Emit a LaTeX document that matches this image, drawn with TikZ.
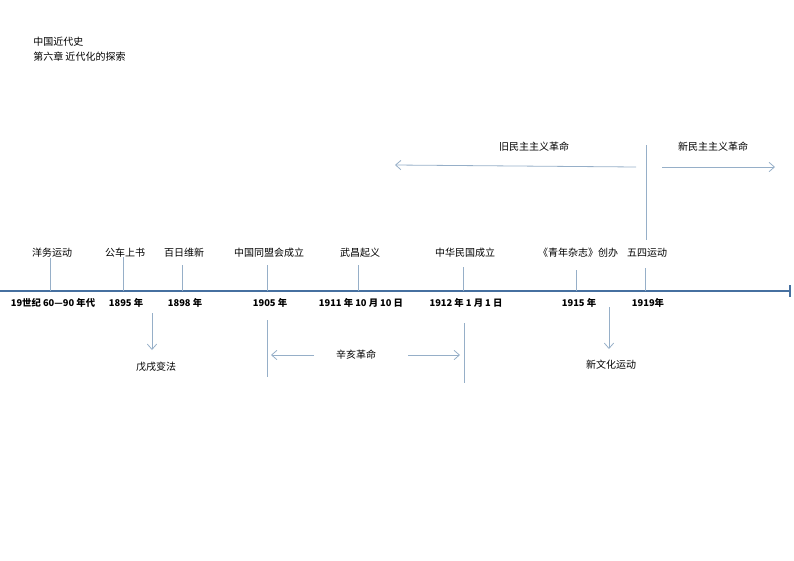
\documentclass[tikz,border=0pt]{standalone}
\usepackage{fontspec}
\newfontfamily\cjk{Noto Sans CJK SC}
\usetikzlibrary{arrows.meta}
\newlength{\du}
\setlength{\du}{0.75pt}
\definecolor{axiscolor}{RGB}{70,112,160}
\definecolor{tickcolor}{RGB}{150,175,200}
\tikzset{
  lbl/.style={font=\cjk\fontsize{7.5}{9}\selectfont, inner sep=0pt},
  yr/.style={font=\cjk\bfseries\fontsize{7}{9}\selectfont, inner sep=0pt},
  tick/.style={draw=tickcolor, line width=0.6pt},
  arr/.style={draw=tickcolor, line width=0.6pt, -{Straight Barb[length=4pt,width=7pt]}}
}
\begin{document}
\begin{tikzpicture}[x=\du,y=-\du]
\useasboundingbox (0,0) rectangle (794,561);
% header
\node[lbl, anchor=west] (h1) at (33,42) {中国近代史};
\node[lbl, anchor=west] (h2) at (33,57) {第六章\ 近代化的探索};
% axis
\coordinate (a0) at (0,291);
\coordinate (a1) at (790,291);
\draw[axiscolor, line width=1.6pt] (a0) -- (a1);
\draw[axiscolor, line width=0.8pt] (790,285) -- (790,297);
% events: x, top, label, year
\foreach \x/\t/\name/\ev/\yr in {
  50/258/yw/洋务运动/{19世纪 60—90 年代},
  123/257/gc/公车上书/1895 年,
  182/265/br/百日维新/1898 年,
  267/265/tm/中国同盟会成立/1905 年,
  358/265/wc/武昌起义/{1911 年 10 月 10 日},
  463/267/mg/中华民国成立/{1912 年 1 月 1 日},
  576/270/qn/《青年杂志》创办/1915 年,
  645/268/ws/五四运动/1919年}{
  \node[lbl] (\name) at (\x+2,253) {\ev};
  \node[yr] (\name-y) at (\x+3,303) {\yr};
  \draw[tick] (\x,\t) -- (\x,291);
}
% 戊戌变法
\node[lbl] (wx) at (156,367) {戊戌变法};
\coordinate (wx-s) at (152,313);
\coordinate (wx-e) at (152,350);
\draw[arr] (wx-s) -- (wx-e);
% 新文化运动
\node[lbl] (xwh) at (611,365) {新文化运动};
\coordinate (xw-s) at (609,307);
\coordinate (xw-e) at (609,349);
\draw[arr] (xw-s) -- (xw-e);
% 辛亥革命
\coordinate (xl) at (267,320);
\coordinate (xr) at (464,323);
\draw[tick] (xl) -- (267,377);
\draw[tick] (xr) -- (464,383);
\node[lbl] (xh) at (356,355) {辛亥革命};
\draw[arr] (314,355) -- (271,355);
\draw[arr] (408,355) -- (460,355);
% 五四 divide
\draw[tick] (646,145) -- (646,240);
\node[lbl] (jm) at (534,147) {旧民主主义革命};
\draw[arr] (636,167) -- (395,165);
\node[lbl] (xm) at (713,147) {新民主主义革命};
\draw[arr] (662,167) -- (775,167);
\end{tikzpicture}
\end{document}
